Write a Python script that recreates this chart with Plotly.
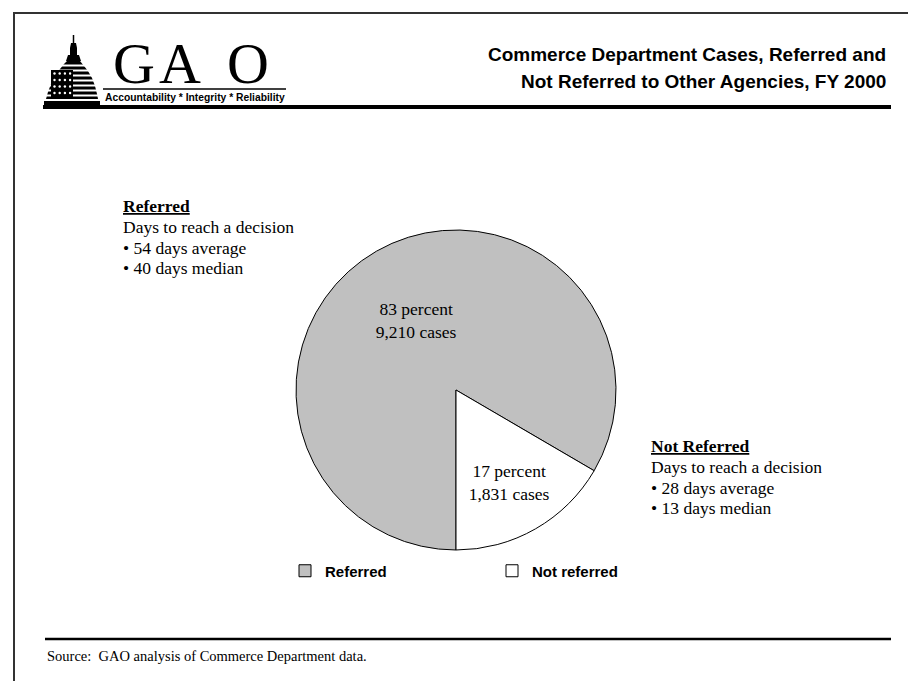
import plotly.graph_objects as go

# ---------------- data ----------------
categories = ["Referred", "Not referred"]
cases = [9210, 1831]
percents = [83, 17]
slice_colors = ["#C0C0C0", "#FFFFFF"]

title_lines = ["Commerce Department Cases, Referred and",
               "Not Referred to Other Agencies, FY 2000"]
referred_notes = ["Days to reach a decision", "\u2022 54 days average", "\u2022 40 days median"]
not_referred_notes = ["Days to reach a decision", "\u2022 28 days average", "\u2022 13 days median"]
source_text = "Source:  GAO analysis of Commerce Department data."
tagline = "Accountability * Integrity * Reliability"

# ---------------- geometry helpers (pixel -> paper) ----------------
W, H = 916, 681
def X(px):
    return px / W
def Y(py):
    return 1 - py / H

SERIF = "Liberation Serif, Times New Roman, serif"
SANS = "Liberation Sans, Arial, sans-serif"

cx, cy, r = 448, 382, 160

fig = go.Figure()
fig.add_trace(go.Pie(
    labels=categories,
    values=cases,
    customdata=percents,
    sort=False,
    direction="clockwise",
    rotation=180,
    marker=dict(colors=slice_colors, line=dict(color="black", width=1)),
    texttemplate="%{customdata} percent<br>%{value:,.0f} cases",
    textposition="inside",
    insidetextorientation="horizontal",
    insidetextfont=dict(family=SERIF, size=17.5, color="black"),
    hoverinfo="label+value+percent",
    domain=dict(x=[X(cx - r), X(cx + r)], y=[Y(cy + r), Y(cy - r)]),
))

shapes = []
annotations = []

# outer frame
shapes.append(dict(type="rect", xref="paper", yref="paper",
                   x0=X(6), x1=X(908), y0=Y(692), y1=Y(5),
                   line=dict(color="#333333", width=2), fillcolor="rgba(0,0,0,0)"))
# header thick rule
shapes.append(dict(type="line", xref="paper", yref="paper",
                   x0=X(35), x1=X(883), y0=Y(99), y1=Y(99),
                   line=dict(color="black", width=4)))
# thin rule under GAO
shapes.append(dict(type="line", xref="paper", yref="paper",
                   x0=X(95), x1=X(278), y0=Y(81), y1=Y(81),
                   line=dict(color="black", width=1.5)))
# source rule
shapes.append(dict(type="line", xref="paper", yref="paper",
                   x0=X(37), x1=X(883), y0=Y(631), y1=Y(631),
                   line=dict(color="black", width=2.5)))

# ---- GAO dome logo (decoration) ----
def path(points):
    return "M " + " L ".join(f"{X(a)},{Y(b)}" for a, b in points) + " Z"

# spire
shapes.append(dict(type="line", xref="paper", yref="paper",
                   x0=X(65.5), x1=X(65.5), y0=Y(27), y1=Y(35),
                   line=dict(color="black", width=1.5)))
# lantern
shapes.append(dict(type="path", xref="paper", yref="paper",
                   path=path([(63, 35), (68, 35), (69, 40), (69, 47), (62, 47), (62, 40)]),
                   fillcolor="black", line=dict(width=0)))
# collar
shapes.append(dict(type="path", xref="paper", yref="paper",
                   path=path([(60, 47), (71, 47), (73, 53), (58, 53)]),
                   fillcolor="black", line=dict(width=0)))
# dome body
dome = [(59, 53), (72, 53), (76, 58), (80, 63), (84, 70), (87, 78), (89, 86), (90, 91),
        (38, 91), (40, 84), (43, 76), (47, 68), (52, 61), (56, 56)]
shapes.append(dict(type="path", xref="paper", yref="paper",
                   path=path(dome), fillcolor="black", line=dict(width=0)))
# stripes
for sy in [57.5, 62.5, 67.5, 72.5, 77.5, 82.5, 87.5]:
    shapes.append(dict(type="line", xref="paper", yref="paper",
                       x0=X(36), x1=X(93), y0=Y(sy), y1=Y(sy),
                       line=dict(color="white", width=2)))
# canton
shapes.append(dict(type="rect", xref="paper", yref="paper",
                   x0=X(43), x1=X(65), y0=Y(89), y1=Y(62),
                   fillcolor="black", line=dict(width=0)))
for row in range(4):
    for col in range(4):
        sx = 46.5 + col * 5.2
        sy = 65.5 + row * 6.5
        shapes.append(dict(type="circle", xref="paper", yref="paper",
                           x0=X(sx - 1.2), x1=X(sx + 1.2), y0=Y(sy + 1.2), y1=Y(sy - 1.2),
                           fillcolor="white", line=dict(width=0)))
# base
shapes.append(dict(type="rect", xref="paper", yref="paper",
                   x0=X(36), x1=X(92), y0=Y(100), y1=Y(93),
                   fillcolor="black", line=dict(width=0)))

# GAO letters
for letter, lx in zip(["G", "A", "O"], [126, 172, 240]):
    annotations.append(dict(text=letter, xref="paper", yref="paper",
                            x=X(lx), y=Y(56), xanchor="center", yanchor="middle",
                            showarrow=False,
                            font=dict(family=SERIF, size=58, color="black")))
annotations.append(dict(text="<b>" + tagline + "</b>", xref="paper", yref="paper",
                        x=X(187), y=Y(89), xanchor="center", yanchor="middle",
                        showarrow=False, font=dict(family=SANS, size=10.3, color="black")))

# title
for i, t in enumerate(title_lines):
    annotations.append(dict(text="<b>" + t + "</b>", xref="paper", yref="paper",
                            x=X(880), y=Y(47 + 27 * i), xanchor="right", yanchor="middle",
                            showarrow=False, font=dict(family=SANS, size=19, color="black")))

# side notes
def note_block(x0, y0, header, lines):
    annotations.append(dict(text="<b><u>" + header + "</u></b>", xref="paper", yref="paper",
                            x=X(x0), y=Y(y0), xanchor="left", yanchor="middle",
                            showarrow=False, font=dict(family=SERIF, size=17.5, color="black")))
    for i, t in enumerate(lines):
        annotations.append(dict(text=t, xref="paper", yref="paper",
                                x=X(x0), y=Y(y0 + 20.8 * (i + 1)), xanchor="left", yanchor="middle",
                                showarrow=False, font=dict(family=SERIF, size=17.5, color="black")))

note_block(113, 198, "Referred", referred_notes)
note_block(641, 438, "Not Referred", not_referred_notes)

# source
annotations.append(dict(text=source_text, xref="paper", yref="paper",
                        x=X(37), y=Y(648), xanchor="left", yanchor="middle",
                        showarrow=False, font=dict(family=SERIF, size=14.5, color="black")))

fig.update_layout(
    width=W, height=H,
    margin=dict(l=0, r=0, t=0, b=0),
    paper_bgcolor="white",
    plot_bgcolor="white",
    showlegend=True,
    legend=dict(orientation="h", x=X(277), y=Y(563), xanchor="left", yanchor="middle",
                entrywidth=162, entrywidthmode="pixels",
                font=dict(family=SANS, size=15, color="black", weight="bold"),
                bgcolor="rgba(0,0,0,0)", borderwidth=0, traceorder="normal"),
    shapes=shapes,
    annotations=annotations,
)

fig.write_html("out.html")
